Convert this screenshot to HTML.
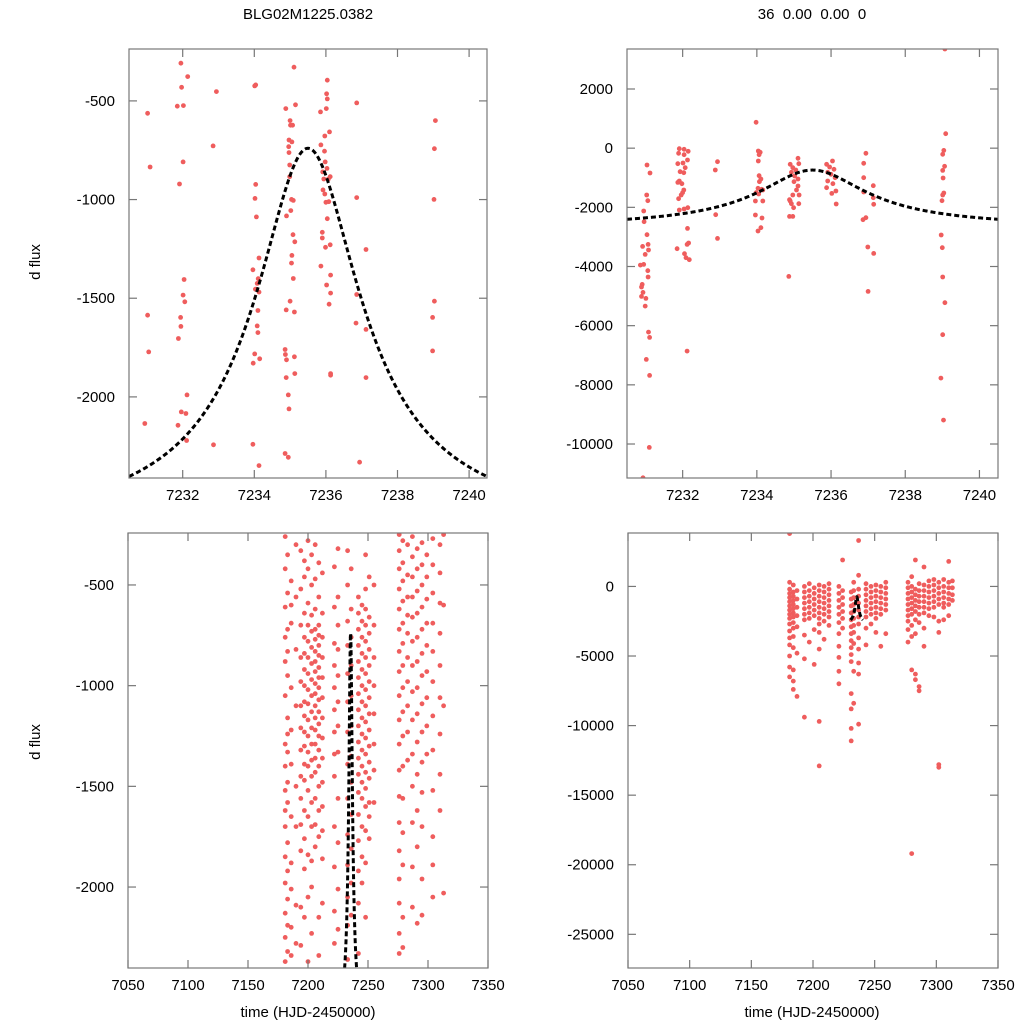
<!DOCTYPE html>
<html><head><meta charset="utf-8">
<style>
html,body{margin:0;padding:0;background:#fff;}
svg{display:block;font-family:"Liberation Sans",Arial,sans-serif;}
</style></head>
<body>
<svg id="chart" width="1024" height="1024" viewBox="0 0 1024 1024">
<text x="308" y="19" font-size="15" text-anchor="middle">BLG02M1225.0382</text>
<text x="812" y="19" font-size="15" text-anchor="middle" xml:space="preserve">36  0.00  0.00  0</text>
<text transform="translate(40,262) rotate(-90)" font-size="15" text-anchor="middle">d flux</text>
<text transform="translate(40,742) rotate(-90)" font-size="15" text-anchor="middle">d flux</text>
<text x="308" y="1017" font-size="15" text-anchor="middle">time (HJD-2450000)</text>
<text x="812" y="1017" font-size="15" text-anchor="middle">time (HJD-2450000)</text>
</svg>
<script>
// ---- data ----
const zoomTicksX=[7232,7234,7236,7238,7240];
const wideTicksX=[7050,7100,7150,7200,7250,7300,7350];
const tlTicksY=[-500,-1000,-1500,-2000];
const trTicksY=[2000,0,-2000,-4000,-6000,-8000,-10000];
const blTicksY=[-500,-1000,-1500,-2000];
const brTicksY=[0,-5000,-10000,-15000,-20000,-25000];
// model parameters: baseline, height, peak time, width, exponent
const modelParams=[-2700,1960,7235.5,1.614,0.8];

const tlPoints=[[7231.95,-309],[7232.14,-377],[7231.97,-431],[7232.94,-453],[7231.85,-527],[7232.02,-524],[7231.02,-563],[7234.01,-424],[7234.04,-419],[7235.11,-329],[7234.88,-539],[7235.15,-520],[7236.04,-395],[7236.02,-464],[7236.04,-490],[7236.01,-539],[7235.85,-556],[7236.86,-510],[7239.06,-600],[7239.03,-742],[7239.02,-999],[7232.85,-728],[7231.09,-835],[7232.01,-809],[7231.91,-921],
[7235.0,-600],[7235.01,-623],[7235.07,-623],[7234.97,-698],[7235.05,-708],[7234.96,-732],[7234.97,-762],[7234.99,-825],[7234.99,-884],[7235.04,-999],[7235.09,-1004],[7235.02,-1056],[7234.9,-1083],[7235.08,-1178],[7235.13,-1214],[7235.05,-1283],[7235.04,-1322],[7235.09,-1400],[7235.0,-1515],[7234.89,-1559],[7235.12,-1570],[7234.86,-1760],[7234.87,-1785],[7234.9,-1812],[7235.12,-1797],[7234.89,-1902],[7235.13,-1882],[7234.95,-1990],[7234.97,-2061],[7234.86,-2287],[7234.95,-2306],
[7234.04,-923],[7234.02,-994],[7234.06,-1088],[7234.13,-1296],[7233.96,-1356],[7234.11,-1401],[7234.08,-1425],[7234.03,-1454],[7234.13,-1469],[7234.1,-1562],[7234.08,-1640],[7234.1,-1674],[7234.01,-1782],[7234.15,-1807],[7233.97,-1829],[7233.96,-2240],[7234.13,-2348],
[7235.97,-678],[7236.1,-657],[7235.86,-723],[7235.96,-755],[7235.98,-809],[7236.03,-842],[7235.91,-860],[7236.12,-884],[7236.07,-896],[7235.94,-896],[7235.92,-951],[7235.97,-972],[7236.0,-1014],[7236.08,-1011],[7236.04,-1097],[7235.9,-1166],[7235.9,-1195],[7236.12,-1229],[7235.99,-1242],[7235.86,-1337],[7236.13,-1383],[7236.02,-1433],[7236.13,-1474],[7236.09,-1530],[7236.13,-1882],[7236.13,-1890],
[7236.86,-990],[7237.12,-1253],[7236.86,-1481],[7236.84,-1626],[7237.12,-1658],[7237.12,-1902],[7236.94,-2331],
[7231.02,-1586],[7231.05,-1772],[7230.94,-2135],
[7232.04,-1405],[7232.01,-1484],[7232.06,-1518],[7231.94,-1597],[7231.95,-1643],[7231.88,-1704],[7232.12,-1990],[7231.96,-2076],[7232.09,-2084],[7231.87,-2144],[7232.11,-2221],[7232.86,-2243],
[7239.03,-1515],[7238.98,-1597],[7238.98,-1767]];

const trPoints=[[7231.04,-570],[7231.12,-840],[7231.03,-1584],[7231.06,-1775],[7230.95,-2125],[7230.96,-2485],[7231.04,-2925],[7230.92,-3319],[7231.07,-3252],[7230.99,-3590],[7231.08,-3443],[7230.86,-3951],[7230.95,-3928],[7231.06,-4142],[7231.07,-4356],[7230.91,-4604],[7230.89,-4694],[7230.93,-4875],[7230.89,-5010],[7231.01,-5078],[7230.99,-5337],[7231.08,-6216],[7231.11,-6396],[7231.02,-7140],[7231.11,-7681],[7231.1,-10115],[7230.93,-11141],
[7231.91,-17],[7232.04,-39],[7232.15,-107],[7231.89,-175],[7232.04,-220],[7232.13,-400],[7231.87,-524],[7232.01,-502],[7232.07,-660],[7231.93,-795],[7232.03,-829],[7231.91,-1110],[7231.87,-1156],[7231.98,-1201],[7232.03,-1415],[7232.0,-1505],[7231.96,-1584],[7231.89,-1708],[7232.14,-2012],[7232.04,-2057],[7231.91,-2091],[7232.13,-2711],[7231.85,-3398],[7232.16,-3207],[7232.12,-3252],[7232.05,-3568],[7232.09,-3703],[7232.18,-3770],[7232.12,-6858],
[7232.94,-457],[7232.88,-739],[7232.89,-2249],[7232.94,-3049],
[7233.98,873],[7234.04,-96],[7234.09,-141],[7234.06,-220],[7234.04,-434],[7234.06,-930],[7234.11,-1043],[7234.07,-1133],[7234.03,-1358],[7234.13,-1392],[7233.98,-1505],[7234.05,-1550],[7234.16,-1415],[7233.96,-1787],[7234.16,-1787],[7233.96,-2260],[7234.14,-2361],[7234.11,-2688],[7234.03,-2801],
[7235.11,-344],[7234.9,-547],[7235.13,-524],[7234.97,-660],[7235.05,-739],[7234.93,-817],[7235.02,-941],[7235.11,-1043],[7235.0,-1133],[7235.11,-1280],[7235.07,-1415],[7234.97,-1584],[7234.88,-1742],[7235.14,-1584],[7234.93,-1877],[7234.99,-2012],[7234.9,-1787],[7235.13,-1877],[7234.88,-2305],[7234.97,-2305],[7234.86,-4334],
[7236.04,-434],[7235.88,-547],[7235.96,-637],[7236.08,-716],[7235.91,-817],[7236.0,-885],[7236.11,-998],[7235.91,-1110],[7236.05,-1201],[7235.88,-1336],[7236.13,-1449],[7236.02,-1528],[7236.14,-1888],
[7236.94,-175],[7236.88,-513],[7236.88,-998],[7237.14,-1268],[7236.88,-1482],[7237.14,-1674],[7237.15,-1899],[7236.94,-2350],[7236.86,-2418],[7236.99,-3342],[7237.15,-3556],[7237.0,-4841],
[7239.07,3352],[7239.09,490],[7239.04,-74],[7239.01,-209],[7239.06,-614],[7239.01,-750],[7239.02,-1009],[7239.04,-1516],[7239.01,-1584],[7238.99,-1775],[7238.97,-2936],[7239.0,-3364],[7239.01,-4356],[7239.07,-5224],[7239.01,-6306],[7238.96,-7771],[7239.03,-9191]];

const blNights=[7181,7183,7186,7190,7194,7197,7200,7203,7206,7209,7212,7222,7225,7233,7236,7242,7245,7248,7251,7255,7276,7279,7283,7287,7291,7295,7299,7304,7310,7313];
const blFlux=[
[-260,-420,-610,-880,-1050,-1290,-1400,-1620,-1700,-1850,-1980,-2130,-2250,-2370,-1520,-760],
[-350,-540,-720,-950,-1160,-1330,-1480,-1580,-1780,-1920,-2060,-2190,-2320,-1240,-830],
[-480,-690,-1010,-1220,-1390,-1650,-1880,-2010,-2200,-2340,-600],
[-300,-560,-820,-1100,-1500,-1700,-2090,-2280],
[-330,-520,-700,-860,-980,-1100,-1210,-1320,-1450,-1560,-1690,-1820,-2100,-2290],
[-380,-460,-640,-760,-840,-920,-1000,-1080,-1150,-1230,-1300,-1390,-1470,-1620,-1760,-1910,-2150],
[-280,-420,-590,-700,-780,-860,-940,-1020,-1090,-1170,-1250,-1330,-1400,-1520,-1650,-1840,-2050,-2370],
[-350,-500,-650,-730,-810,-890,-970,-1050,-1130,-1210,-1290,-1370,-1450,-1580,-1700,-1870,-2000,-2230],
[-300,-470,-620,-720,-770,-830,-880,-930,-990,-1040,-1100,-1160,-1220,-1290,-1360,-1430,-1560,-1690,-1800],
[-390,-560,-700,-750,-800,-850,-910,-960,-1010,-1070,-1130,-1190,-1250,-1320,-1400,-1500,-1620,-1750,-2150,-2340],
[-440,-640,-760,-860,-960,-1060,-1160,-1260,-1360,-1480,-1600,-1720,-1860,-2080],
[-410,-610,-790,-900,-1010,-1120,-1230,-1340,-1450,-1700,-1900,-2120,-2280],
[-320,-560,-700,-820,-950,-1080,-1200,-1330,-1560,-1780,-2010,-2210],
[-330,-500,-680,-800,-940,-1080,-1230,-1390,-1560,-1740,-1890,-2050,-2190,-2360],
[-420,-620,-760,-900,-1050,-1200,-1350,-1480,-1640,-1810,-1980,-2140],
[-560,-640,-720,-800,-880,-960,-1040,-1120,-1200,-1280,-1360,-1440,-1530,-1640,-1770,-1920,-2080,-2330],
[-600,-680,-760,-840,-920,-1000,-1080,-1160,-1240,-1320,-1400,-1480,-1560,-1700,-1850,-1980],
[-350,-520,-620,-700,-780,-860,-940,-1020,-1100,-1180,-1260,-1340,-1430,-1510,-1600,-1720,-1880,-2150],
[-460,-660,-740,-820,-900,-980,-1060,-1140,-1220,-1300,-1380,-1460,-1580,-1650,-1760],
[-500,-700,-860,-1000,-1140,-1290,-1420,-1580],
[-250,-330,-420,-520,-620,-720,-830,-930,-1050,-1170,-1290,-1420,-1550,-1680,-1820,-1960,-2080,-2230,-2330],
[-280,-390,-480,-580,-690,-790,-900,-1010,-1130,-1250,-1400,-1560,-1730,-1890,-2150,-2300],
[-300,-450,-560,-650,-740,-860,-980,-1100,-1230,-1370],
[-260,-360,-460,-560,-660,-780,-900,-1030,-1170,-1340,-1500,-1680,-1900,-2100],
[-320,-420,-530,-640,-760,-880,-1010,-1140,-1280,-1440,-1620,-1800,-2180],
[-290,-400,-500,-610,-720,-840,-950,-1090,-1230,-1380,-1530,-1700,-1960,-2140],
[-350,-460,-570,-690,-800,-930,-1060,-1200,-1340],
[-270,-400,-540,-690,-830,-980,-1150,-1320,-1520,-1750,-1890,-2050],
[-300,-440,-590,-740,-900,-1060,-1240,-1440,-1620],
[-250,-600,-1100,-2030]];

const brNights=[7181,7184,7187,7193,7197,7201,7205,7209,7213,7221,7224,7231,7233,7237,7243,7247,7251,7255,7259,7277,7280,7283,7286,7290,7294,7298,7302,7306,7310,7313];
const brFlux=[
[3800,300,-200,-500,-800,-1100,-1400,-1700,-2000,-2300,-2700,-3200,-3700,-4200,-5000,-5800,-6500],
[100,-400,-700,-1000,-1300,-1600,-1900,-2200,-2600,-3000,-3600,-4400,-6000,-6800,-7400],
[-300,-900,-1500,-2100,-2900,-4800,-7900],
[0,-400,-800,-1200,-1600,-2000,-2400,-3500,-5200,-9400],
[200,-300,-700,-1100,-1500,-1900,-2300,-4000],
[-100,-500,-900,-1300,-1700,-2100,-3100,-5600],
[100,-300,-700,-1100,-1500,-1900,-2300,-2700,-3300,-4500,-9700,-12900],
[0,-400,-800,-1200,-1600,-2000,-2500,-3800],
[200,-200,-600,-1000,-1400,-1800,-2200,-2800],
[0,-500,-1000,-1500,-2000,-2600,-3400,-4300,-5100,-6100,-7000],
[1900,-300,-800,-1300,-1800,-2300,-3000],
[-400,-900,-1400,-1900,-2400,-2900,-3400,-3900,-4400,-4900,-5400,-7700,-8800,-10200,-11100],
[300,-300,-800,-1300,-1800,-2300,-2800,-3300,-4100,-6100,-8400],
[3300,800,-200,-700,-1200,-1700,-2200,-2700,-3700,-4500,-5500,-6300,-9900],
[200,-200,-600,-1000,-1400,-1800,-2200,-3000,-4200],
[0,-400,-800,-1200,-1600,-2000,-2700],
[100,-300,-700,-1100,-1500,-1900,-2300,-3300],
[0,-400,-800,-1200,-1600,-2000,-4300],
[300,-100,-500,-900,-1300,-1700,-3400],
[300,-100,-500,-900,-1300,-1700,-2100,-2500,-3100,-4000],
[700,0,-400,-800,-1200,-1600,-2000,-2800,-3600,-6000,-19200],
[1900,-200,-600,-1000,-1400,-1800,-2400,-3400,-6300,-6700],
[200,-300,-700,-1100,-1500,-2000,-2600,-7200,-7500,-27700],
[1400,100,-300,-700,-1100,-1500,-1900,-3000,-4300],
[400,0,-400,-800,-1200,-1600,-2100],
[500,100,-300,-700,-1100,-1500,-2200],
[300,-100,-500,-900,-1300,-2500,-3300,-13000,-12800],
[500,0,-400,-800,-1200,-1500,-2400],
[1800,300,-100,-500,-900,-1300,-2100],
[400,-100,-600,-1000]];

// ---- drawing ----
const NS='http://www.w3.org/2000/svg';
const svg=document.getElementById('chart');
function mk(tag,attrs,parent){const e=document.createElementNS(NS,tag);for(const k in attrs)e.setAttribute(k,attrs[k]);(parent||svg).appendChild(e);return e;}
function model(t){const p=modelParams;const d=(t-p[2])/p[3];return p[0]+p[1]/Math.pow(1+d*d,p[4]);}

function panel(id,box,xr,yr,xt,yt,pts){
  const [L,T,R,B]=box;
  const sx=v=>L+(v-xr[0])/(xr[1]-xr[0])*(R-L);
  const sy=v=>T+(yr[1]-v)/(yr[1]-yr[0])*(B-T);
  const g=mk('g',{});
  
  
  const cp=mk('clipPath',{id:id+'-clip'},g);
  mk('rect',{x:L,y:T,width:R-L,height:B-T},cp);
  const pg=mk('g',{'clip-path':'url(#'+id+'-clip)'},g);
  pts.forEach(p=>{
    const c=mk('circle',{cx:sx(p[0]).toFixed(1),cy:sy(p[1]).toFixed(1),r:2.4,fill:'#ef5d5d'},pg);
    
    
  });
  let d='';
  for(let i=0;i<=400;i++){const t=7230.5+i*10/400;d+=(i?'L':'M')+sx(t).toFixed(2)+' '+sy(model(t)).toFixed(2);}
  const m=mk('path',{d:d,fill:'none',stroke:'#000','stroke-width':3,'stroke-dasharray':'5,3'},pg);
  
  
  const fr=mk('rect',{x:L,y:T,width:R-L,height:B-T,fill:'none',stroke:'#777','stroke-width':1.2},g);
  
  
  xt.forEach(v=>{
    const x=sx(v);
    mk('line',{x1:x,y1:B,x2:x,y2:B-8,stroke:'#777','stroke-width':1.2},g);
    mk('line',{x1:x,y1:T,x2:x,y2:T+8,stroke:'#777','stroke-width':1.2},g);
    const tx=mk('text',{x:x,y:B+22,'font-size':15,'text-anchor':'middle'},g);
    tx.textContent=v;
    
    
  });
  yt.forEach(v=>{
    const y=sy(v);
    mk('line',{x1:L,y1:y,x2:L+8,y2:y,stroke:'#777','stroke-width':1.2},g);
    mk('line',{x1:R,y1:y,x2:R-8,y2:y,stroke:'#777','stroke-width':1.2},g);
    const tx=mk('text',{x:L-14,y:y+5,'font-size':15,'text-anchor':'end'},g);
    tx.textContent=v;
    
    
  });
}
function expand(nights,flux){const o=[];nights.forEach((n,i)=>flux[i].forEach(f=>o.push([n,f])));return o;}

panel('top-left',[129,49,487,478],[7230.5,7240.5],[-2411,-237],zoomTicksX,tlTicksY,tlPoints);
panel('top-right',[627,49,998,478],[7230.5,7240.5],[-11149,3352],zoomTicksX,trTicksY,trPoints);
panel('bottom-left',[128,533,488,968],[7050,7350],[-2402,-242],wideTicksX,blTicksY,expand(blNights,blFlux));
panel('bottom-right',[628,533,998,968],[7050,7350],[-27420,3840],wideTicksX,brTicksY,expand(brNights,brFlux));
</script>
</body></html>
